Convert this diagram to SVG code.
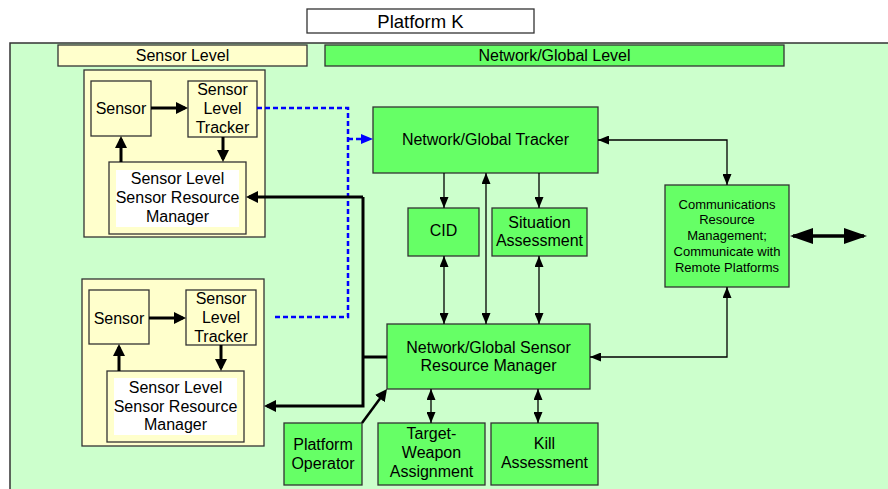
<svg xmlns="http://www.w3.org/2000/svg" width="888" height="489" viewBox="0 0 888 489">
  <style>
    .t{font-family:"Liberation Sans",Arial,Helvetica,sans-serif;font-size:16px;fill:#000;text-anchor:middle}
    .s{font-size:13px}
    .g{fill:#66FF66;stroke:#333;stroke-width:1.3}
    .y{fill:#FFFFCC;stroke:#333;stroke-width:1.3}
    .w{fill:#FFFFFF;stroke:none}
    .thin{stroke:#000;stroke-width:1.3;fill:none;marker-end:url(#ah)}
    .both{marker-start:url(#ah)}
    .thick{stroke:#000;stroke-width:3;fill:none}
    .blue{stroke:#0000FF;stroke-width:2.5;stroke-dasharray:5 3;fill:none}
  </style>
  <defs>
    <marker id="ah" markerUnits="userSpaceOnUse" markerWidth="11" markerHeight="9" refX="11" refY="4.5" orient="auto-start-reverse">
      <path d="M0,0 L11,4.5 L0,9 z" fill="#000"/>
    </marker>
    <marker id="ahk" markerUnits="userSpaceOnUse" markerWidth="12" markerHeight="12" refX="9" refY="6" orient="auto-start-reverse">
      <path d="M0,0 L12,6 L0,12 z" fill="#000"/>
    </marker>
    <marker id="ahb" markerUnits="userSpaceOnUse" markerWidth="12" markerHeight="10" refX="9" refY="5" orient="auto-start-reverse">
      <path d="M0,0 L12,5 L0,10 z" fill="#0000FF"/>
    </marker>
    <marker id="ahx" markerUnits="userSpaceOnUse" markerWidth="23" markerHeight="16" refX="20" refY="8" orient="auto-start-reverse">
      <path d="M0,0 L23,8 L0,16 z" fill="#000"/>
    </marker>
  </defs>

  <rect x="0" y="0" width="888" height="489" fill="#FFFFFF"/>

  <!-- platform frame and level banners -->
  <g id="platform">
    <rect x="10" y="43" width="890" height="460" fill="#CCFFCC" stroke="#333" stroke-width="1.5"/>
    <rect x="307" y="9" width="227" height="24" fill="#FFFFFF" stroke="#333" stroke-width="1.3"/>
    <text class="t" x="420.5" y="27.5" style="font-size:18.5px">Platform K</text>
  </g>
  <g id="sensor-level">
    <rect class="y" x="58" y="45" width="249" height="21"/>
    <text class="t" x="182.5" y="61">Sensor Level</text>
  </g>
  <g id="network-level">
    <rect class="g" x="325" y="45" width="459" height="21"/>
    <text class="t" x="554.5" y="61">Network/Global Level</text>
  </g>

  <!-- upper sensor cluster -->
  <g id="sensor-group-1">
    <rect class="y" x="84" y="70" width="181" height="167"/>
  </g>
  <g id="sensor-1">
    <rect class="y" x="91" y="81" width="60" height="55"/>
    <text class="t" x="121" y="113.5">Sensor</text>
  </g>
  <g id="tracker-1">
    <rect class="y" x="188" y="81" width="69" height="56"/>
    <text class="t" x="222.5" y="94.5">Sensor</text>
    <text class="t" x="222.5" y="113.5">Level</text>
    <text class="t" x="222.5" y="132.5">Tracker</text>
  </g>
  <g id="srm-1">
    <rect class="y" x="109" y="162" width="137" height="72"/>
    <rect class="w" x="116" y="170" width="123" height="57"/>
    <text class="t" x="177.5" y="183.5">Sensor Level</text>
    <text class="t" x="177.5" y="202.5">Sensor Resource</text>
    <text class="t" x="177.5" y="221.5">Manager</text>
  </g>

  <!-- lower sensor cluster -->
  <g id="sensor-group-2">
    <rect class="y" x="82" y="279" width="182" height="167"/>
  </g>
  <g id="sensor-2">
    <rect class="y" x="89" y="290" width="60" height="54"/>
    <text class="t" x="119" y="323.5">Sensor</text>
  </g>
  <g id="tracker-2">
    <rect class="y" x="186" y="290" width="70" height="55"/>
    <text class="t" x="221" y="303.5">Sensor</text>
    <text class="t" x="221" y="322.5">Level</text>
    <text class="t" x="221" y="341.5">Tracker</text>
  </g>
  <g id="srm-2">
    <rect class="y" x="107" y="371" width="137" height="71"/>
    <rect class="w" x="114" y="378" width="123" height="57"/>
    <text class="t" x="175.5" y="392.5">Sensor Level</text>
    <text class="t" x="175.5" y="411.5">Sensor Resource</text>
    <text class="t" x="175.5" y="429.5">Manager</text>
  </g>

  <!-- network / global nodes -->
  <g id="global-tracker">
    <rect class="g" x="373" y="107" width="225" height="66"/>
    <text class="t" x="485.5" y="144.5">Network/Global Tracker</text>
  </g>
  <g id="cid">
    <rect class="g" x="408" y="208" width="71" height="48"/>
    <text class="t" x="443.5" y="235.5">CID</text>
  </g>
  <g id="situation-assessment">
    <rect class="g" x="492" y="208" width="95" height="48"/>
    <text class="t" x="539.5" y="227.5">Situation</text>
    <text class="t" x="539.5" y="245.5">Assessment</text>
  </g>
  <g id="global-srm">
    <rect class="g" x="387" y="324" width="203" height="65"/>
    <text class="t" x="488.5" y="352.5">Network/Global Sensor</text>
    <text class="t" x="488.5" y="370.5">Resource Manager</text>
  </g>
  <g id="platform-operator">
    <rect class="g" x="284" y="423" width="78" height="62"/>
    <text class="t" x="323" y="449.5">Platform</text>
    <text class="t" x="323" y="468.5">Operator</text>
  </g>
  <g id="target-weapon">
    <rect class="g" x="378" y="423" width="107" height="62"/>
    <text class="t" x="431.5" y="438.5">Target-</text>
    <text class="t" x="431.5" y="457.5">Weapon</text>
    <text class="t" x="431.5" y="476.5">Assignment</text>
  </g>
  <g id="kill-assessment">
    <rect class="g" x="491" y="423" width="107" height="62"/>
    <text class="t" x="544.5" y="448.5">Kill</text>
    <text class="t" x="544.5" y="467.5">Assessment</text>
  </g>
  <g id="comms">
    <rect class="g" x="665" y="185" width="124" height="102"/>
    <text class="t s" x="727" y="208.5">Communications</text>
    <text class="t s" x="727" y="224">Resource</text>
    <text class="t s" x="727" y="240">Management;</text>
    <text class="t s" x="727" y="256">Communicate with</text>
    <text class="t s" x="727" y="271.5">Remote Platforms</text>
  </g>

  <!-- connectors -->
  <g id="connectors">
    <!-- inside the sensor clusters -->
    <path class="thick" d="M151,108 H185" marker-end="url(#ahk)"/>
    <path class="thick" d="M223,137 V159" marker-end="url(#ahk)"/>
    <path class="thick" d="M121,162 V139" marker-end="url(#ahk)"/>
    <path class="thick" d="M149,318 H183" marker-end="url(#ahk)"/>
    <path class="thick" d="M221,345 V368" marker-end="url(#ahk)"/>
    <path class="thick" d="M119,371 V347" marker-end="url(#ahk)"/>

    <!-- track reports to the global tracker -->
    <path class="blue" d="M257,108 H348 V317 H273"/>
    <path class="blue" d="M348,139 H370" marker-end="url(#ahb)"/>

    <!-- tasking from the global sensor resource manager -->
    <path class="thick" d="M363,197 H249" marker-end="url(#ahk)"/>
    <path class="thick" d="M363,197 V406 H267" marker-end="url(#ahk)"/>
    <path class="thick" d="M363,357 H387"/>
    <path class="thick" style="stroke-width:2.5" d="M362,423 L385.2,391.4" marker-end="url(#ahk)"/>

    <!-- global level links -->
    <path class="thin" d="M444,173 V208"/>
    <path class="thin" d="M539,173 V208"/>
    <path class="thin both" d="M486,324 V173"/>
    <path class="thin both" d="M444,256 V324"/>
    <path class="thin both" d="M539,256 V324"/>
    <path class="thin both" d="M431,389 V423"/>
    <path class="thin both" d="M538,389 V423"/>
    <path class="thin both" d="M598,140 H727 V185"/>
    <path class="thin both" d="M590,357 H727 V287"/>

    <!-- off-platform link -->
    <path d="M793,236 H864" stroke="#000" stroke-width="3.5" fill="none" marker-start="url(#ahx)" marker-end="url(#ahx)"/>
  </g>
</svg>
